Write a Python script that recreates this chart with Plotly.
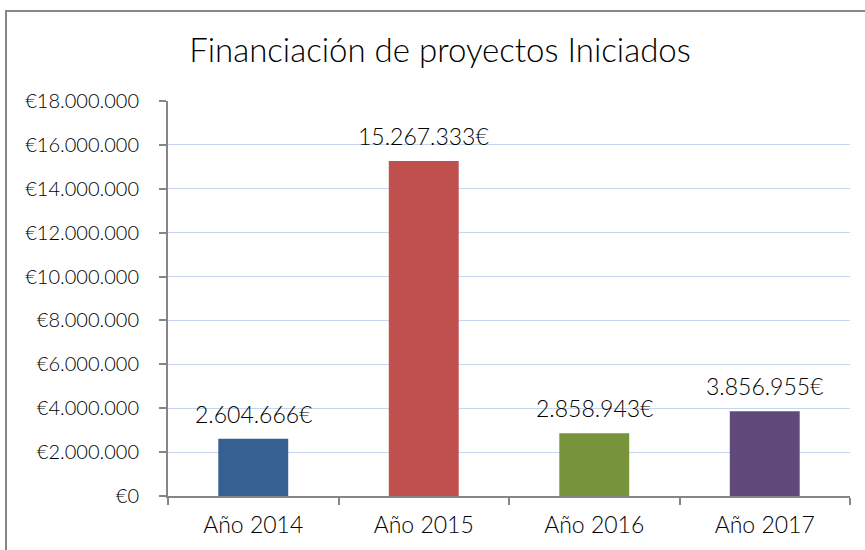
import plotly.graph_objects as go

# Project funding by year
categories = ["Año 2014", "Año 2015", "Año 2016", "Año 2017"]
amounts = [2604666, 15267333, 2858943, 3856955]
bar_colors = ["#366092", "#C0504D", "#77933C", "#604A7B"]
tick_values = [0, 2000000, 4000000, 6000000, 8000000, 10000000,
               12000000, 14000000, 16000000, 18000000]


def euro_thousands(v):
    return f"{v:,}".replace(",", ".")


bar_labels = [euro_thousands(v) + "€" for v in amounts]
tick_labels = ["€" + euro_thousands(v) for v in tick_values]

FONT = "Lato"
AXIS_GREY = "#868686"

fig = go.Figure(
    go.Bar(
        x=categories,
        y=amounts,
        marker=dict(color=bar_colors, line=dict(width=0)),
        width=0.41,
        hoverinfo="x+y",
    )
)

# value labels above each bar
annotations = [
    dict(
        x=c,
        y=v,
        xref="x",
        yref="y",
        text=t,
        showarrow=False,
        yanchor="middle",
        yshift=25,
        font=dict(family=FONT, size=23, color="#000000", weight=300),
    )
    for c, v, t in zip(categories, amounts, bar_labels)
]

fig.update_layout(
    width=865,
    height=550,
    margin=dict(l=168, r=15, t=101, b=54),
    paper_bgcolor="#ffffff",
    plot_bgcolor="#ffffff",
    showlegend=False,
    annotations=annotations,
    title=dict(
        text="Financiación de proyectos Iniciados",
        x=440 / 865,
        xanchor="center",
        y=1 - 50 / 550,
        yanchor="middle",
        font=dict(family=FONT, size=33, color="#000000", weight=300),
    ),
    font=dict(family=FONT, color="#000000"),
    shapes=[
        # outer chart border
        dict(
            type="rect",
            xref="paper",
            yref="paper",
            x0=(6 - 168) / 682,
            x1=(880 - 168) / 682,
            y0=(496 - 570) / 395,
            y1=(496 - 11) / 395,
            line=dict(color=AXIS_GREY, width=2),
            fillcolor="rgba(0,0,0,0)",
            layer="below",
        )
    ],
)

fig.update_xaxes(
    showline=True,
    linecolor=AXIS_GREY,
    linewidth=2,
    ticks="outside",
    tickson="boundaries",
    ticklen=7,
    tickwidth=2,
    tickcolor=AXIS_GREY,
    showgrid=False,
    ticklabelstandoff=7,
    tickfont=dict(family=FONT, size=23, color="#000000", weight=300),
)

fig.update_yaxes(
    range=[0, 18000000],
    tickvals=tick_values,
    ticktext=tick_labels,
    showline=True,
    linecolor=AXIS_GREY,
    linewidth=2,
    ticks="outside",
    ticklen=7,
    tickwidth=2,
    tickcolor=AXIS_GREY,
    showgrid=True,
    gridcolor="#C5D5F0",
    gridwidth=1,
    zeroline=False,
    ticklabelstandoff=16,
    tickfont=dict(family=FONT, size=20, color="#000000", weight=300),
)

fig.write_html("out.html")
